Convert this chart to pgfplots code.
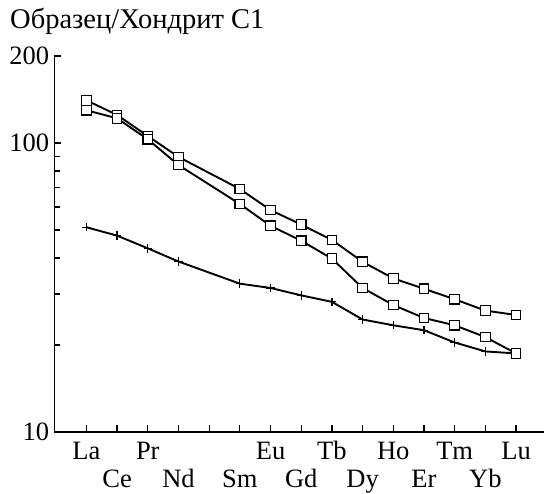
\documentclass[border=0pt]{standalone}
\usepackage{fontspec}
\setmainfont{Liberation Serif}
\usepackage{pgfplots}
\pgfplotsset{compat=1.18}
\begin{document}
\begin{tikzpicture}
\begin{axis}[
  scale only axis, width=489.7pt, height=376pt,
  xmin=-1.046, xmax=14.91, ymin=10, ymax=200, ymode=log,
  axis x line=bottom, axis y line=left,
  axis line style={-, line width=1.3pt},
  tick align=inside, major tick length=7pt, minor tick length=6pt,
  every tick/.style={line width=1.2pt, black},
  xtick={0,...,14},
  xticklabels={La,\raisebox{-28pt}{Ce},Pr,\raisebox{-28pt}{Nd},{},\raisebox{-28pt}{Sm},Eu,\raisebox{-28pt}{Gd},Tb,\raisebox{-28pt}{Dy},Ho,\raisebox{-28pt}{Er},Tm,\raisebox{-28pt}{Yb},Lu},
  xticklabel style={anchor=base, yshift=-28pt, inner sep=0pt},
  ytick={10,100,200}, yticklabels={10,100,200},
  minor ytick={20,30,40,50,60,70,80,90},
  yticklabel style={inner sep=0pt, xshift=-5pt},
  every tick label/.append style={font=\fontsize{26.5}{30}\selectfont},
  clip=false,
]
\coordinate (sw) at (rel axis cs:0,0);
\addplot[line width=1.9pt, mark=+, mark options={line width=1.2pt, mark size=4.2pt}] coordinates {
(0,51.1) (1,47.8) (2,43.2) (3,38.9) (5,32.6) (6,31.5) (7,29.7) (8,28.2) (9,24.5) (10,23.4) (11,22.5) (12,20.4) (13,19.0) (14,18.7)};
\addplot[line width=1.9pt, mark=square*, mark options={fill=white, draw=black, line width=1.2pt, mark size=4.8pt}] coordinates {
(0,140.5) (1,125.0) (2,105.7) (3,89.5) (5,69.3) (6,58.6) (7,52.2) (8,46.2) (9,38.8) (10,34.0) (11,31.3) (12,28.8) (13,26.3) (14,25.4)};
\addplot[line width=1.9pt, mark=square*, mark options={fill=white, draw=black, line width=1.2pt, mark size=4.8pt}] coordinates {
(0,129.8) (1,121.7) (2,103.0) (3,83.9) (5,61.5) (6,51.7) (7,45.9) (8,39.8) (9,31.5) (10,27.5) (11,24.8) (12,23.4) (13,21.3) (14,18.7)};
\end{axis}
\node[anchor=base west, inner sep=0pt, font=\fontsize{28.5}{33}\selectfont] at ([shift={(-44.3pt,403pt)}]sw) {Образец/Хондрит С1};
\pgfresetboundingbox
\path ([shift={(-54.3pt,-62pt)}]sw) rectangle ([shift={(489.7pt,432pt)}]sw);
\end{tikzpicture}
\end{document}
